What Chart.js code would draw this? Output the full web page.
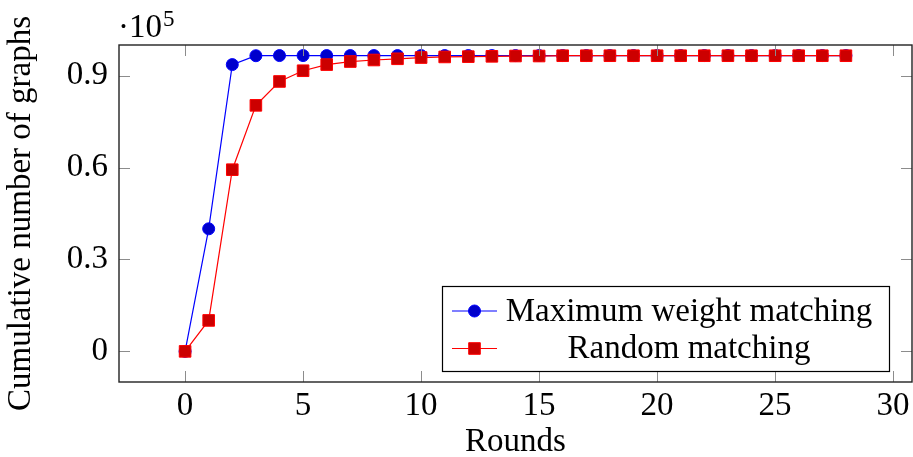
<!DOCTYPE html>
<html><head><meta charset="utf-8">
<script src="https://cdn.jsdelivr.net/npm/chart.js@4"></script>
<style>html,body{margin:0;padding:0;background:#fff;overflow:hidden;}</style>
</head><body>
<canvas id="c" width="913" height="457"></canvas>
<script>
// Data (values in units of 10^5 graphs)
const rounds = [0,1,2,3,4,5,6,7,8,9,10,11,12,13,14,15,16,17,18,19,20,21,22,23,24,25,26,27,28];
const maxWeight = [0,0.400,0.936,0.965,0.9655,0.9655,0.9655,0.9655,0.9655,0.9655,0.9655,0.9655,0.9655,0.9655,0.9655,0.9655,0.9655,0.9655,0.9655,0.9655,0.9655,0.9655,0.9655,0.9655,0.9655,0.9655,0.9655,0.9655,0.9655];
const randomMatch = [0,0.101,0.593,0.803,0.881,0.916,0.936,0.946,0.951,0.955,0.959,0.961,0.962,0.963,0.964,0.964,0.965,0.965,0.965,0.965,0.965,0.965,0.965,0.965,0.965,0.965,0.965,0.965,0.965];
const xTicks = [0,5,10,15,20,25,30];
const yTicks = [0,0.3,0.6,0.9];
const yTickLabels = ['0','0.3','0.6','0.9'];
const seriesNames = ['Maximum weight matching','Random matching'];
const yTitle = 'Cumulative number of graphs';
const xTitle = 'Rounds';

const FAMILY = "'Liberation Serif','Times New Roman',serif";
const FS = 33;

const frame = {
  id: 'frame',
  afterDatasetsDraw(chart) {
    const {ctx, chartArea: a, scales} = chart;
    ctx.save();
    ctx.strokeStyle = '#8c8c8c';
    ctx.lineWidth = 1;
    const TL = 11;
    xTicks.forEach(v => {
      const px = Math.round(scales.x.getPixelForValue(v)) + 0.5;
      ctx.beginPath();
      ctx.moveTo(px, a.bottom); ctx.lineTo(px, a.bottom - TL);
      ctx.moveTo(px, a.top); ctx.lineTo(px, a.top + TL);
      ctx.stroke();
    });
    yTicks.forEach(v => {
      const py = Math.round(scales.y.getPixelForValue(v)) + 0.5;
      ctx.beginPath();
      ctx.moveTo(a.left, py); ctx.lineTo(a.left + TL, py);
      ctx.moveTo(a.right, py); ctx.lineTo(a.right - TL, py);
      ctx.stroke();
    });
    ctx.strokeStyle = '#222';
    ctx.lineWidth = 1.4;
    ctx.strokeRect(a.left, a.top, a.right - a.left, a.bottom - a.top);
    ctx.restore();
  },
  afterDraw(chart) {
    const {ctx, chartArea: a} = chart;
    ctx.save();
    // scale factor label
    ctx.fillStyle = '#000';
    ctx.textBaseline = 'alphabetic';
    ctx.textAlign = 'left';
    ctx.font = FS + 'px ' + FAMILY;
    ctx.fillText('\u00b710', a.left - 1, 37);
    const w = ctx.measureText('\u00b710').width;
    ctx.font = '23px ' + FAMILY;
    ctx.fillText('5', a.left - 1 + w + 1, 26);
    // legend
    const lx = 442.5, ly = 286.5, lw = 447, lh = 85;
    ctx.fillStyle = '#fff';
    ctx.fillRect(lx, ly, lw, lh);
    ctx.strokeStyle = '#000';
    ctx.lineWidth = 1.2;
    ctx.strokeRect(lx, ly, lw, lh);
    const ds = chart.data.datasets;
    const rows = [311, 348.5];
    ds.forEach((d, i) => {
      const y = rows[i];
      ctx.strokeStyle = d.borderColor;
      ctx.lineWidth = d.borderWidth;
      ctx.beginPath(); ctx.moveTo(452, y); ctx.lineTo(497, y); ctx.stroke();
      ctx.fillStyle = d.pointBackgroundColor;
      ctx.strokeStyle = d.pointBorderColor;
      ctx.lineWidth = d.pointBorderWidth;
      Chart.helpers.drawPoint(ctx, {pointStyle: d.pointStyle, radius: d.pointRadius, borderWidth: d.pointBorderWidth}, 474.5, y);
      ctx.fillStyle = '#000';
      ctx.font = FS + 'px ' + FAMILY;
      ctx.textAlign = 'center';
      ctx.textBaseline = 'middle';
      ctx.fillText(d.label, 689, y + 1);
    });
    ctx.restore();
  }
};

new Chart(document.getElementById('c'), {
  type: 'line',
  data: {
    datasets: [
      {
        label: seriesNames[0],
        data: rounds.map((r, i) => ({x: r, y: maxWeight[i]})),
        borderColor: '#0000ff', borderWidth: 1.2,
        pointStyle: 'circle', pointRadius: 6, pointHoverRadius: 6,
        pointBackgroundColor: '#0000cc', pointBorderColor: '#0000ff', pointBorderWidth: 1,
        tension: 0, order: 1
      },
      {
        label: seriesNames[1],
        data: rounds.map((r, i) => ({x: r, y: randomMatch[i]})),
        borderColor: '#ff0000', borderWidth: 1.2,
        pointStyle: 'rect', pointRadius: 8.2, pointHoverRadius: 8.2,
        pointBackgroundColor: '#cc0000', pointBorderColor: '#ff0000', pointBorderWidth: 1,
        tension: 0, order: 0
      }
    ]
  },
  options: {
    responsive: false,
    animation: false,
    devicePixelRatio: 1,
    layout: {autoPadding: false, padding: {top: 45, right: 1, left: 0, bottom: 0}},
    plugins: {legend: {display: false}, tooltip: {enabled: false}},
    scales: {
      x: {
        type: 'linear', min: -2.8, max: 30.8,
        afterBuildTicks: s => { s.ticks = xTicks.map(v => ({value: v})); },
        afterFit: s => { s.height = 75; s.paddingLeft = 0; s.paddingRight = 0; },
        grid: {display: false, drawTicks: false},
        border: {display: false},
        ticks: {font: {family: FAMILY, size: FS}, color: '#000', padding: 5, maxRotation: 0, autoSkip: false,
          callback: v => String(v)},
        title: {display: true, text: xTitle, color: '#000', font: {family: FAMILY, size: FS, lineHeight: 0.88}, padding: {top: 0, bottom: 0}}
      },
      y: {
        type: 'linear', min: -0.1, max: 1.0,
        afterBuildTicks: s => { s.ticks = yTicks.map(v => ({value: v})); },
        afterFit: s => { s.width = 119; s.paddingTop = 0; s.paddingBottom = 0; },
        grid: {display: false, drawTicks: false},
        border: {display: false},
        ticks: {font: {family: FAMILY, size: FS}, color: '#000', padding: 11, autoSkip: false,
          callback: (v, i) => yTickLabels[i]},
        title: {display: true, text: yTitle, color: '#000', font: {family: FAMILY, size: FS, lineHeight: 1}, padding: {top: 5, bottom: 0}}
      }
    }
  },
  plugins: [frame]
});
</script>
</body></html>
